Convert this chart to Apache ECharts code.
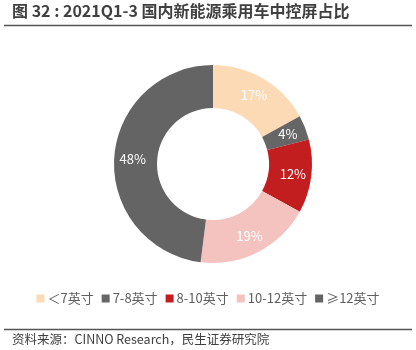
<!DOCTYPE html>
<html><head><meta charset="utf-8">
<script src="https://cdn.jsdelivr.net/npm/echarts@6/dist/echarts.min.js"></script>
<style>html,body{margin:0;padding:0;background:#fff}#c{width:416px;height:350px}</style>
</head><body><div id="c"></div>
<script>
const categories = ['＜7英寸', '7-8英寸', '8-10英寸', '10-12英寸', '≥12英寸'];
const values = [17, 4, 12, 19, 48];
const colors = ['#FDDAB6', '#666666', '#C21E1F', '#F4C3C0', '#646464'];
const titleText = '图 32 : 2021Q1-3 国内新能源乘用车中控屏占比';
const sourceText = '资料来源：CINNO Research，民生证券研究院';
const font = '"Noto Sans CJK SC", "Microsoft YaHei", sans-serif';

const chart = echarts.init(document.getElementById('c'), null, {renderer: 'canvas'});
chart.setOption({
  animation: false,
  color: colors,
  textStyle: {fontFamily: font},
  legend: {
    bottom: 40, left: 'center',
    itemWidth: 8, itemHeight: 8, itemGap: 8,
    icon: 'rect',
    textStyle: {fontSize: 13, color: '#5f5f5f', fontFamily: font, padding: [0,0,0,-2]},
    data: categories
  },
  graphic: [
    {type: 'text', left: 12, top: 3, style: {text: titleText, font: 'bold 16px ' + font, fill: '#404040'}},
    {type: 'line', shape: {x1: 4, y1: 25.5, x2: 412, y2: 25.5}, style: {stroke: '#555', lineWidth: 1.5}},
    {type: 'line', shape: {x1: 4, y1: 329.5, x2: 412, y2: 329.5}, style: {stroke: '#555', lineWidth: 1.5}},
    {type: 'text', left: 12, top: 333, style: {text: sourceText, font: '12.5px ' + font, fill: '#404040'}}
  ],
  series: [{
    type: 'pie',
    center: [213, 164],
    radius: [56, 99],
    startAngle: 90,
    clockwise: true,
    avoidLabelOverlap: false,
    itemStyle: {borderColor: '#fff', borderWidth: 0},
    label: {show: true, position: 'inside', color: '#fff', fontSize: 13, fontFamily: font, formatter: '{c}%'},
    labelLine: {show: false},
    data: categories.map((n, i) => ({name: n, value: values[i]}))
  }]
});
</script></body></html>
